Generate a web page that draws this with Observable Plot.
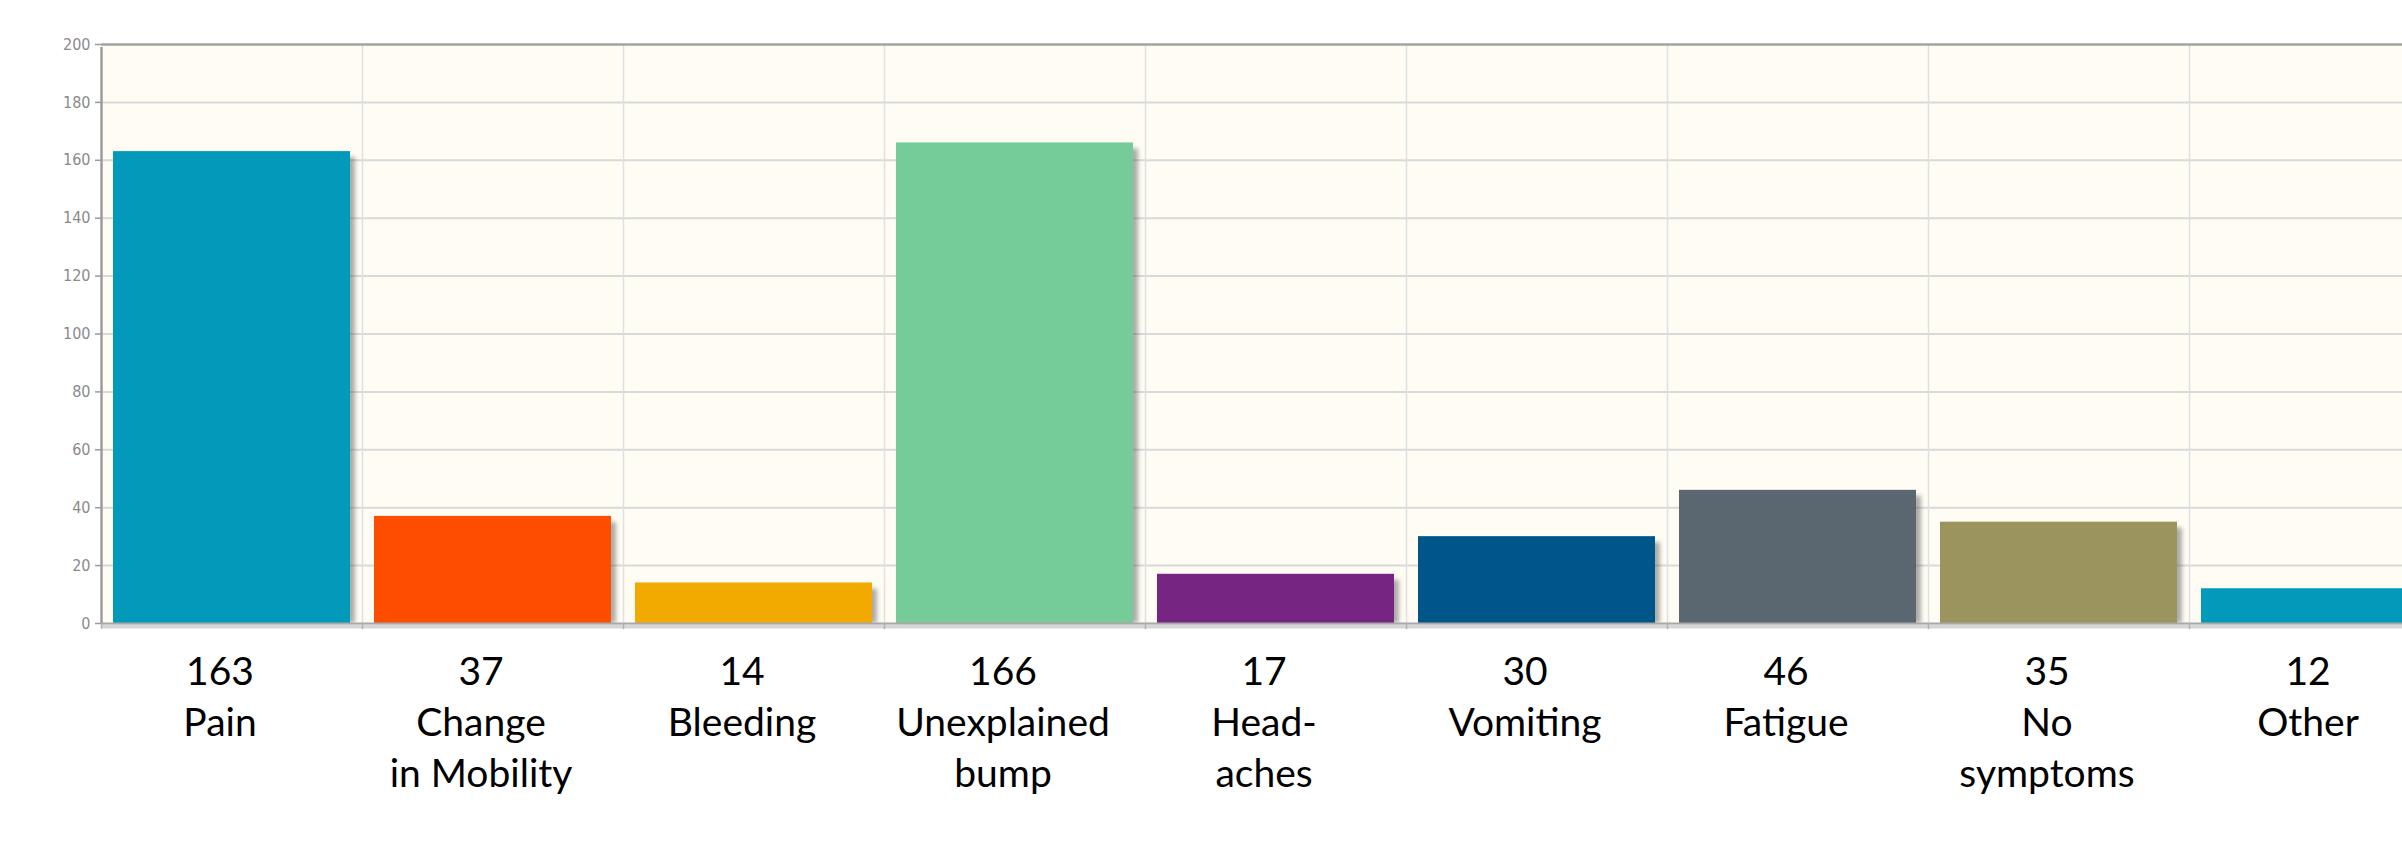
<!DOCTYPE html>
<html>
<head>
<meta charset="utf-8">
<script src="https://cdn.jsdelivr.net/npm/d3@7"></script>
<script src="https://cdn.jsdelivr.net/npm/@observablehq/plot@0.6"></script>
<style>
  html, body { margin: 0; padding: 0; background: #ffffff; overflow: hidden; }
  #chart { padding-top: 36px; width: 2402px; height: 822px; }
  #chart svg { display: block; }
</style>
</head>
<body>
<div id="chart"></div>
<script>
// Reported symptoms and how many people reported each
const symptoms = ["Pain", "Change in Mobility", "Bleeding", "Unexplained bump", "Headaches", "Vomiting", "Fatigue", "No symptoms", "Other"];
const counts = [163, 37, 14, 166, 17, 30, 46, 35, 12];
const labelLines = ["Pain", "Change\nin Mobility", "Bleeding", "Unexplained\nbump", "Head-\naches", "Vomiting", "Fatigue", "No\nsymptoms", "Other"];
const barColors = ["#0299ba", "#ff4d00", "#f2aa00", "#76cc98", "#772583", "#005688", "#5a6770", "#9b945f", "#0299ba"];
const yTicks = [0, 20, 40, 60, 80, 100, 120, 140, 160, 180, 200];

const rows = symptoms.map((name, i) => ({
  name,
  index: i,
  count: counts[i],
  label: `${counts[i]}\n${labelLines[i]}`,
  color: barColors[i]
}));

const bandEdges = d3.range(0, symptoms.length + 1);

const chart = Plot.plot({
  width: 2402,
  height: 822,
  marginTop: 8,
  marginBottom: 235,
  marginLeft: 101,
  marginRight: 0,
  style: {
    fontFamily: "'DejaVu Sans Condensed', 'DejaVu Sans', sans-serif",
    fontSize: "16px",
    color: "#8a8a8a",
    background: "transparent",
    overflow: "hidden"
  },
  x: { type: "linear", domain: [0, symptoms.length], range: [101, 101 + 261 * symptoms.length], axis: null },
  y: { domain: [0, 200], axis: null },
  marks: [
    // cream plotting area
    Plot.frame({ fill: "#fffcf4", stroke: "none" }),
    // grid
    Plot.ruleY(yTicks.filter(v => v > 0 && v < 200), { stroke: "#d9d9d9", strokeWidth: 2 }),
    Plot.ruleX(bandEdges.slice(1), { y1: 0, y2: 200, stroke: "#e0e0e0", strokeWidth: 1.5 }),
    // soft drop shadow behind the bars
    Plot.rectY(rows, {
      x1: "index", x2: d => d.index + 1, y: "count",
      insetLeft: 17, insetRight: 7, dy: 6, insetBottom: 6,
      fill: "#4a4a4a", fillOpacity: 0.45
    }),
    // bars
    Plot.rectY(rows, {
      x1: "index", x2: d => d.index + 1, y: "count",
      insetLeft: 12, insetRight: 12,
      fill: "color"
    }),
    // axis line shadow and frame edges
    Plot.ruleY([0], { stroke: "#d6d6d6", strokeWidth: 4, dy: 3 }),
    Plot.ruleY([0], { stroke: "#a8a8a8", strokeWidth: 2 }),
    Plot.ruleY([200], { stroke: "#a3a3a3", strokeWidth: 2.5 }),
    Plot.ruleX([0], { y1: 0, y2: 200, stroke: "#9c9c9c", strokeWidth: 2.5, insetBottom: -3 }),
    // axes
    Plot.axisY({ ticks: yTicks, tickSize: 6, tickPadding: 5, label: null, stroke: "#9c9c9c", strokeWidth: 1.5, fill: "#8a8a8a" }),
    Plot.axisX({ ticks: bandEdges, tickSize: 6, tickFormat: () => "", label: null, stroke: "#b0b0b0", strokeWidth: 1.5 }),
    // value and name below each bar
    Plot.text(rows, {
      x: d => d.index + 0.5, y: 0, text: "label",
      lineAnchor: "top", dy: 25, dx: -12,
      fontFamily: "Lato, 'Open Sans', sans-serif", fontSize: 39, lineHeight: 51 / 39,
      fill: "#000000"
    })
  ]
});

// blur the shadow layer (first rect group)
d3.select(chart).selectAll('g[aria-label="rect"]').filter((d, i) => i === 0).style("filter", "blur(2px)");

document.getElementById("chart").appendChild(chart);
</script>
</body>
</html>
